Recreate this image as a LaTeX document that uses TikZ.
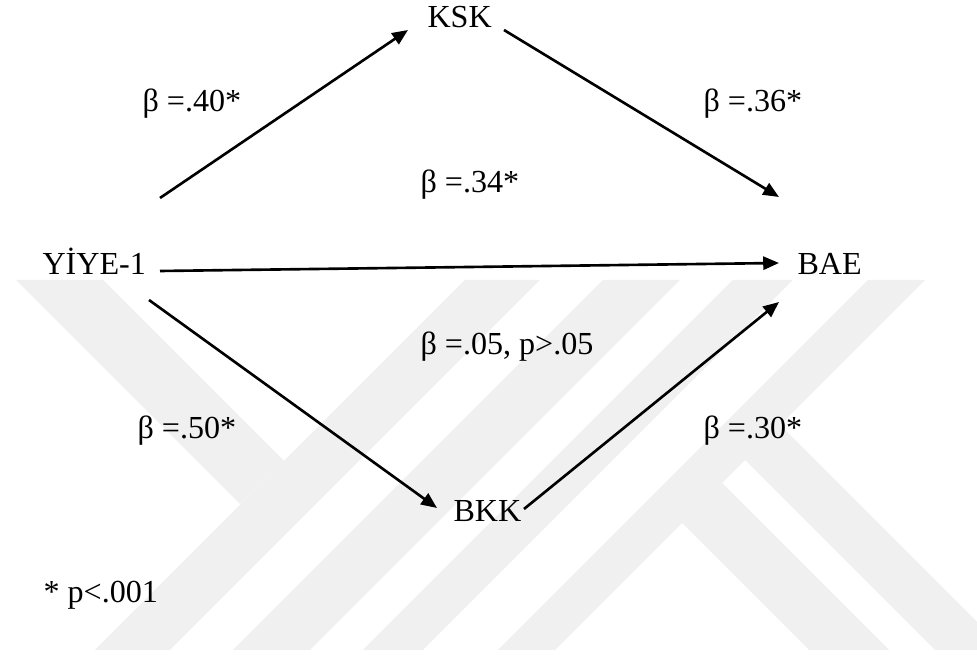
\documentclass[tikz,border=0pt]{standalone}
\usepackage{fontspec}
\setmainfont{Liberation Serif}
\usetikzlibrary{arrows.meta}
\definecolor{wm}{gray}{0.94}
\begin{document}
\begin{tikzpicture}[x=0.38pt,y=-0.38pt,
  lbl/.style={inner sep=0pt, anchor=base west, font=\fontsize{12.2}{14}\selectfont},
  arr/.style={line width=1pt, -{Triangle[length=6pt,width=5pt]}},
  band/.style={fill=wm, draw=none}]
\useasboundingbox (0,0) rectangle (977,655);
\fill[white] (0,0) rectangle (977,655);
% watermark
\begin{scope}
\clip (0,280) rectangle (977,650);
\fill[band] (16,280) -- (103,280) -- (284,461) -- (240,504) -- cycle;
\fill[band] (465,280) -- (540,280) -- (170,650) -- (95,650) -- cycle;
\fill[band] (603,280) -- (680,280) -- (310,650) -- (233,650) -- cycle;
\fill[band] (733,280) -- (793,280) -- (423,650) -- (363,650) -- cycle;
\fill[band] (868,280) -- (925,280) -- (555,650) -- (498,650) -- cycle;
\fill[band] (682,523) -- (722,483) -- (894,655) -- (814,655) -- cycle;
\fill[band] (745,460) -- (780,425) -- (1010,655) -- (940,655) -- cycle;
\end{scope}
% nodes
\node[lbl] (ksk) at (427,28) {KSK};
\node[lbl] (yiye) at (42,275) {YİYE-1};
\node[lbl] (bae) at (797,275) {BAE};
\node[lbl] (bkk) at (453,522) {BKK};
% labels
\node[lbl] (l40) at (142,112) {β =.40*};
\node[lbl] (l36) at (703,112) {β =.36*};
\node[lbl] (l34) at (420,193) {β =.34*};
\node[lbl] (l05) at (420,355) {β =.05, p>.05};
\node[lbl] (l50) at (137,439) {β =.50*};
\node[lbl] (l30) at (703,439) {β =.30*};
\node[lbl] (note) at (43,603) {* p<.001};
% connectors
\draw[arr] ([shift={(118,-77)}]yiye.base west) -- ([shift={(-19,2)}]ksk.base west);
\draw[arr] ([shift={(77,2)}]ksk.base west) -- ([shift={(-18,-78)}]bae.base west);
\draw[arr] ([shift={(118,-4)}]yiye.base west) -- ([shift={(-18,-12)}]bae.base west);
\draw[arr] ([shift={(107,25)}]yiye.base west) -- ([shift={(-16,-14)}]bkk.base west);
\draw[arr] ([shift={(71,-13)}]bkk.base west) -- ([shift={(-18,27)}]bae.base west);
\end{tikzpicture}
\end{document}
